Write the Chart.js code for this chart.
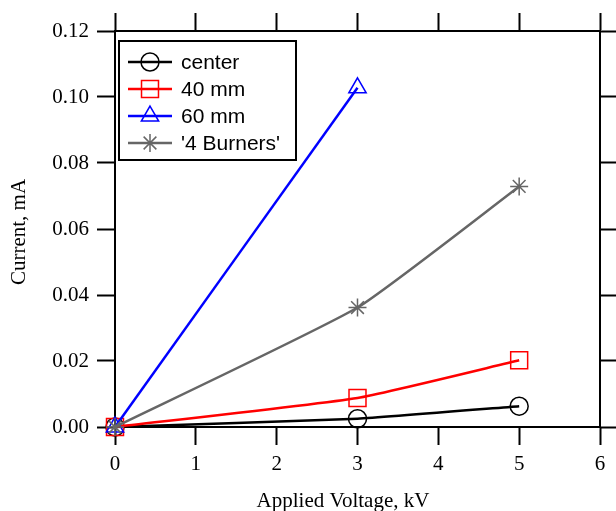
<!DOCTYPE html>
<html>
<head>
<meta charset="utf-8">
<script src="https://cdn.jsdelivr.net/npm/chart.js@4/dist/chart.umd.min.js"></script>
<style>
  html, body { margin: 0; padding: 0; background: #fff; }
  #wrap { width: 616px; height: 511px; position: relative; }
</style>
</head>
<body>
<div id="wrap"><canvas id="c"></canvas></div>
<script>
'use strict';

// ── Data ─────────────────────────────────────────────────────────
const voltage      = [0, 3, 5];
const centerVals   = [0, 0.0025, 0.0063];
const mm40Vals     = [0, 0.0088, 0.0202];
const mm60Volt     = [0, 3];
const mm60Vals     = [0, 0.1028];
const burnersVals  = [0, 0.0362, 0.0729];

const xTicks = [0, 1, 2, 3, 4, 5, 6];
const yTicks = [0, 0.02, 0.04, 0.06, 0.08, 0.10, 0.12];

const xTitle = 'Applied Voltage, kV';
const yTitle = 'Current, mA';

const SERIF = "'Liberation Serif', 'Times New Roman', serif";
const SANS  = "'Liberation Sans', Arial, sans-serif";

function pts(xs, ys) { return xs.map((x, i) => ({ x: x, y: ys[i] })); }

// ── Series styles ───────────────────────────────────────────────
const series = [
  { label: 'center',      color: '#000000', marker: 'circle',   r: 9,  bw: 1.5, data: pts(voltage, centerVals) },
  { label: '40 mm',       color: '#ff0000', marker: 'rect',     r: 12, bw: 1.5, data: pts(voltage, mm40Vals) },
  { label: '60 mm',       color: '#0000ff', marker: 'triangle', r: 10, bw: 1.5, data: pts(mm60Volt, mm60Vals) },
  { label: "'4 Burners'", color: '#666666', marker: 'star',     r: 9,  bw: 1.5, data: pts(voltage, burnersVals) }
];

// ── Marker drawing for the legend ───────────────────────────────
function drawMarker(ctx, type, x, y, r) {
  ctx.beginPath();
  if (type === 'circle') {
    ctx.arc(x, y, r, 0, Math.PI * 2);
  } else if (type === 'rect') {
    const s = Math.SQRT1_2 * r;
    ctx.rect(x - s, y - s, 2 * s, 2 * s);
  } else if (type === 'triangle') {
    ctx.moveTo(x, y - r);
    ctx.lineTo(x + Math.sin(2 * Math.PI / 3) * r, y - Math.cos(2 * Math.PI / 3) * r);
    ctx.lineTo(x + Math.sin(4 * Math.PI / 3) * r, y - Math.cos(4 * Math.PI / 3) * r);
    ctx.closePath();
  } else if (type === 'star') {
    for (let k = 0; k < 4; k++) {
      const a = k * Math.PI / 4;
      ctx.moveTo(x + Math.cos(a) * r, y + Math.sin(a) * r);
      ctx.lineTo(x - Math.cos(a) * r, y - Math.sin(a) * r);
    }
  }
  ctx.stroke();
}

// legend box + axis titles (Igor-style placement)
const decorations = {
  id: 'decorations',
  afterDraw(chart) {
    const ctx = chart.ctx;
    const bx = 119, by = 41, bw = 177, bh = 119;
    ctx.save();
    ctx.fillStyle = '#fff';
    ctx.fillRect(bx, by, bw, bh);
    ctx.lineWidth = 2;
    ctx.strokeStyle = '#000';
    ctx.strokeRect(bx, by, bw, bh);
    ctx.font = '21px ' + SANS;
    ctx.textBaseline = 'middle';
    ctx.textAlign = 'left';
    series.forEach((s, i) => {
      const cy = by + 21 + i * 27;
      ctx.strokeStyle = s.color;
      ctx.lineWidth = 2.5;
      ctx.beginPath();
      ctx.moveTo(128, cy);
      ctx.lineTo(172, cy);
      ctx.stroke();
      ctx.lineWidth = s.bw;
      drawMarker(ctx, s.marker, 150, cy, s.r);
      ctx.fillStyle = '#000';
      ctx.fillText(s.label, 181, cy + 1);
    });

    // axis titles
    ctx.fillStyle = '#000';
    ctx.font = '21px ' + SERIF;
    ctx.textAlign = 'center';
    ctx.textBaseline = 'alphabetic';
    ctx.fillText(xTitle, 343, 507);
    ctx.translate(25, 232);
    ctx.rotate(-Math.PI / 2);
    ctx.fillText(yTitle, 0, 0);
    ctx.restore();
  }
};

// ── Axis helpers ────────────────────────────────────────────────
function axis(pos, min, max, size, showLabels) {
  const horiz = pos === 'top' || pos === 'bottom';
  return {
    type: 'linear',
    position: pos,
    min: min, max: max,
    afterBuildTicks(scale) {
      scale.ticks = (horiz ? xTicks : yTicks).map(v => ({ value: v }));
    },
    afterFit(scale) {
      if (horiz) scale.height = size; else scale.width = size;
    },
    border: { display: true, color: '#000', width: 2 },
    grid: {
      drawOnChartArea: false, drawTicks: true,
      tickLength: 18, tickWidth: 2, tickColor: '#000'
    },
    ticks: {
      display: showLabels,
      color: '#000',
      padding: horiz ? 7 : 8,
      maxRotation: 0,
      font: { family: SERIF, size: 21 },
      callback: v => horiz ? String(v) : v.toFixed(2)
    }
  };
}

new Chart(document.getElementById('c'), {
  type: 'line',
  data: {
    datasets: series.map((s, i) => ({
      label: s.label,
      data: s.data,
      borderColor: s.color,
      backgroundColor: 'transparent',
      borderWidth: 2.5,
      pointStyle: s.marker,
      pointRadius: s.r,
      pointBorderWidth: s.bw,
      pointBorderColor: s.color,
      pointBackgroundColor: 'transparent',
      tension: 0.15,
      clip: false,
      order: series.length - i
    }))
  },
  options: {
    responsive: true,
    maintainAspectRatio: false,
    animation: false,
    layout: { padding: 0 },
    plugins: { legend: { display: false }, tooltip: { enabled: false } },
    scales: {
      x:  axis('bottom', 0, 6, 84, true),
      x2: axis('top', 0, 6, 31, false),
      y:  axis('left', 0, 0.12, 115, true),
      y2: axis('right', 0, 0.12, 16, false)
    }
  },
  plugins: [decorations]
});
</script>
</body>
</html>
